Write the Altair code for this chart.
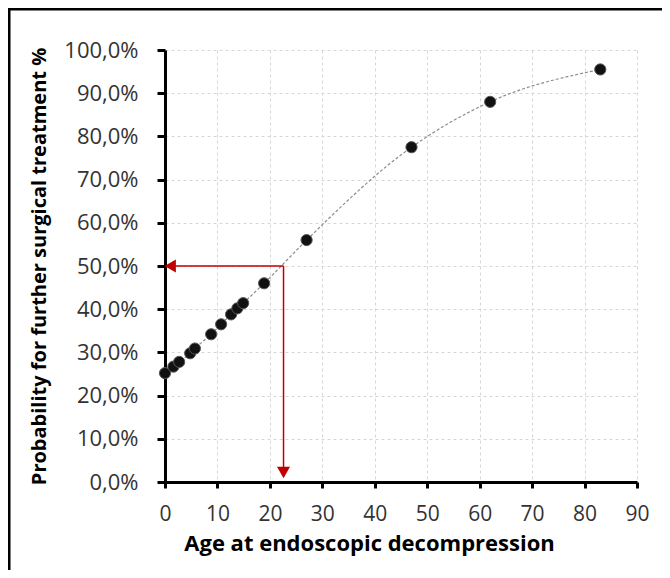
import altair as alt
import pandas as pd

# Data
age = [0, 1.6, 2.7, 4.8, 5.7, 8.8, 10.7, 12.6, 13.8, 14.9, 18.9, 27, 47, 62, 83]
prob = [25.2, 26.7, 27.8, 29.8, 30.9, 34.2, 36.5, 38.8, 40.2, 41.4, 46.0, 56.0, 77.5, 88.0, 95.5]

x_ticks = [0, 10, 20, 30, 40, 50, 60, 70, 80, 90]
y_ticks = [0, 10, 20, 30, 40, 50, 60, 70, 80, 90, 100]

# 50 % read-off annotation
cut_age = [22.6]
cut_prob = [50.0]
arrow_left_x = [1.0]
arrow_down_y = [2.2]

FONT = "Open Sans"
RED = "#C00000"

df = pd.DataFrame({"age": age, "prob": prob})

xscale = alt.Scale(domain=[0, 90], nice=False)
yscale = alt.Scale(domain=[0, 100], nice=False)

xaxis = alt.Axis(
    values=x_ticks, title="Age at endoscopic decompression",
    grid=True, gridColor="#d6d6d6", gridDash=[3, 3], gridWidth=1,
    domainColor="black", domainWidth=3, tickColor="black", tickWidth=3, tickSize=6,
    labelFont=FONT, labelFontSize=21, labelColor="#333333", labelPadding=15,
    labelFlush=False, labelOverlap=False,
    titleFont=FONT, titleFontSize=22, titleFontWeight="bold", titleColor="black",
    titleX=204, titleY=68, titleAlign="center", titleAnchor="middle",
    titleBaseline="alphabetic",
)
yaxis = alt.Axis(
    values=y_ticks, title="Probability for further surgical treatment  %",
    labelExpr="replace(format(datum.value, '.1f'), '.', ',') + '%'",
    grid=True, gridColor="#d6d6d6", gridDash=[3, 3], gridWidth=1,
    domainColor="black", domainWidth=3, tickColor="black", tickWidth=3, tickSize=8,
    labelFont=FONT, labelFontSize=22, labelColor="#333333", labelPadding=19,
    labelFlush=False, labelOverlap=False,
    titleFont=FONT, titleFontSize=20, titleFontWeight="bold", titleColor="black",
    titlePadding=14,
)

base = alt.Chart(df)

curve = base.mark_line(
    color="#8c8c8c", strokeDash=[3, 2], strokeWidth=1.2, interpolate="monotone"
).encode(
    x=alt.X("age:Q", scale=xscale, axis=xaxis),
    y=alt.Y("prob:Q", scale=yscale, axis=yaxis),
)

points = base.mark_circle(size=125, color="#111111", opacity=1, stroke="#555555", strokeWidth=1).encode(
    x=alt.X("age:Q", scale=xscale),
    y=alt.Y("prob:Q", scale=yscale),
)

ann = pd.DataFrame({"cx": cut_age, "cy": cut_prob, "lx": arrow_left_x, "dy": arrow_down_y})
ann_base = alt.Chart(ann)

h_rule = ann_base.mark_rule(color=RED, strokeWidth=1.5).encode(
    x=alt.X("lx:Q", scale=xscale), x2="cx:Q", y=alt.Y("cy:Q", scale=yscale)
)
v_rule = ann_base.mark_rule(color=RED, strokeWidth=1.5).encode(
    x=alt.X("cx:Q", scale=xscale), y=alt.Y("cy:Q", scale=yscale), y2="dy:Q"
)
tri_left = ann_base.mark_point(shape="triangle-left", filled=True, size=170, color=RED, opacity=1).encode(
    x=alt.X("lx:Q", scale=xscale), y=alt.Y("cy:Q", scale=yscale)
)
tri_down = ann_base.mark_point(shape="triangle-down", filled=True, size=170, color=RED, opacity=1).encode(
    x=alt.X("cx:Q", scale=xscale), y=alt.Y("dy:Q", scale=yscale)
)

# outer frame (left and top edges; right and bottom lie beyond the picture)
frame_left = alt.Chart(pd.DataFrame({"a": [0]})).mark_rule(color="black", strokeWidth=3).encode(
    x=alt.value(-156), y=alt.value(-41), y2=alt.value(600)
)
frame_top = alt.Chart(pd.DataFrame({"a": [0]})).mark_rule(color="black", strokeWidth=3).encode(
    x=alt.value(-157.5), x2=alt.value(600), y=alt.value(-41)
)

chart = alt.layer(
    curve, h_rule, v_rule, tri_left, tri_down, points, frame_left, frame_top
).properties(
    width=472, height=432,
    autosize=alt.AutoSizeParams(type="none"),
    padding={"left": 157, "top": 42, "right": 25, "bottom": 88},
).configure_view(stroke=None)

chart.save("out.html", embed_options={"renderer": "svg", "actions": False})
